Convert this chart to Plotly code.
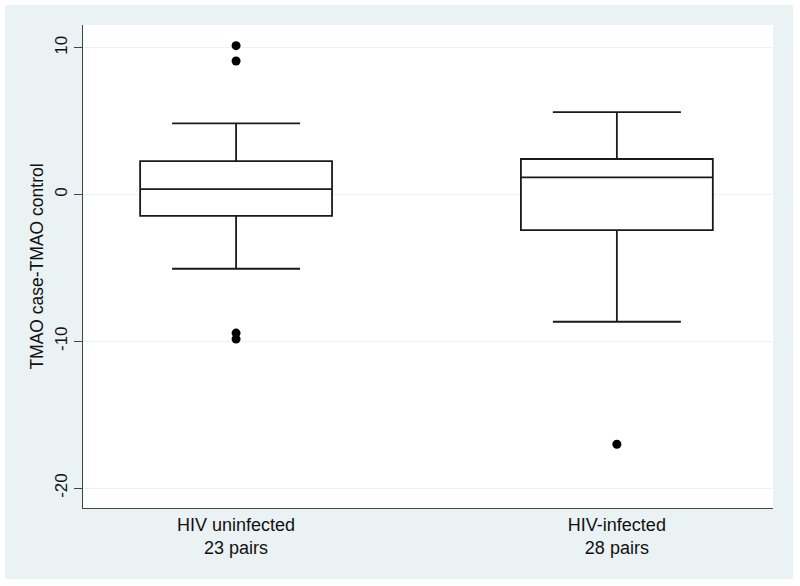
import plotly.graph_objects as go

# ---- data ----
groups = ["HIV uninfected<br>23 pairs", "HIV-infected<br>28 pairs"]
q1 = [-1.46, -2.42]
median = [0.37, 1.17]
q3 = [2.28, 2.42]
lower_whisker = [-5.06, -8.67]
upper_whisker = [4.85, 5.62]
outliers_uninfected = [10.14, 9.10, -9.44, -9.85]
outliers_infected = [-17.02]
y_ticks = [-20, -10, 0, 10]

W, H = 800, 586
L, R, T, B = 83, 27, 25, 78
pw, ph = W - L - R, H - T - B

fig = go.Figure()
fig.add_trace(go.Box(
    x=groups, q1=q1, median=median, q3=q3,
    lowerfence=lower_whisker, upperfence=upper_whisker,
    width=0.504, whiskerwidth=0.667,
    fillcolor="white", line=dict(color="#1a1a1a", width=1.8),
    boxpoints=False, showlegend=False, hoverinfo="skip",
))
fig.add_trace(go.Scatter(
    x=[groups[0]] * len(outliers_uninfected) + [groups[1]] * len(outliers_infected),
    y=outliers_uninfected + outliers_infected,
    mode="markers", marker=dict(color="black", size=9),
    showlegend=False, hoverinfo="skip",
))

bg = "#EAF2F3"
fig.update_layout(
    width=W, height=H,
    margin=dict(l=L, r=R, t=T, b=B, pad=0),
    paper_bgcolor="white", plot_bgcolor="white",
    font=dict(family="Liberation Sans, Arial, sans-serif", size=18, color="#111"),
    shapes=[
        dict(type="rect", xref="paper", yref="paper", layer="below",
             x0=(5 - L) / pw, x1=(793 - L) / pw,
             y0=(H - B - 579) / ph, y1=(H - B - 5) / ph,
             fillcolor=bg, line=dict(width=0)),
        dict(type="rect", xref="paper", yref="paper", layer="below",
             x0=0, x1=1, y0=0, y1=1,
             fillcolor="white", line=dict(width=0)),
    ],
    xaxis=dict(
        type="category", range=[-0.402, 1.41],
        showgrid=False, showline=True, linecolor="#444", linewidth=1.2,
        ticks="", tickfont=dict(size=18), zeroline=False,
    ),
    yaxis=dict(
        range=[-21.36, 11.55], tickvals=y_ticks, ticktext=[str(v) for v in y_ticks],
        tickangle=-90, ticks="outside", ticklen=8, tickcolor="#444",
        showgrid=True, gridcolor=bg, gridwidth=1.2,
        showline=True, linecolor="#444", linewidth=1.2, zeroline=False,
        tickfont=dict(size=17),
        title=dict(text="TMAO case-TMAO control", font=dict(size=17.5), standoff=3),
    ),
)

fig.write_html("out.html", config={"displayModeBar": False},
               post_script="document.body.style.margin='0px';")
